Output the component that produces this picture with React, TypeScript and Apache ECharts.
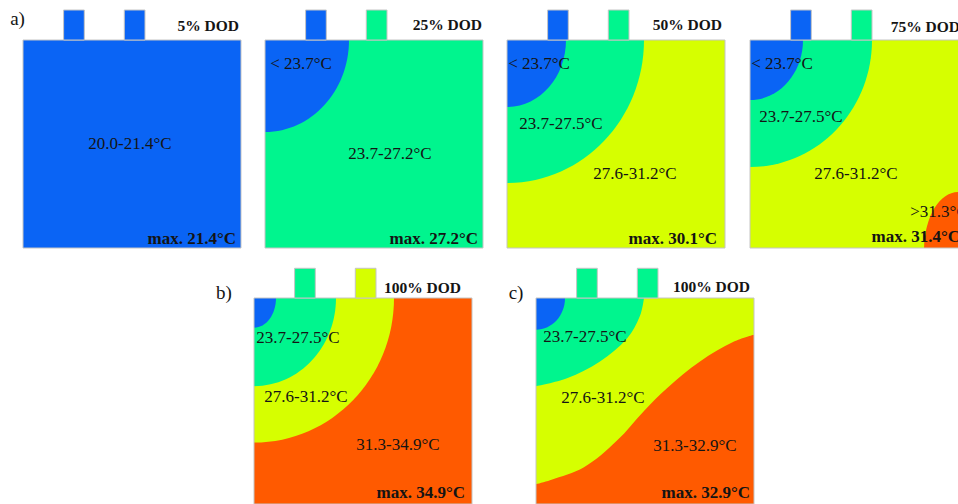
import React, { useEffect, useRef } from "react";
import * as echarts from "echarts";

// ---------- data ----------
const ZONE_COLORS: Record<string, string> = {
  blue: "#0A64F5",
  green: "#00F58E",
  yellow: "#D6FF00",
  orange: "#FF5A00",
};

const PANEL_TITLES = ["5% DOD", "25% DOD", "50% DOD", "75% DOD", "100% DOD", "100% DOD"];
const PANEL_LETTERS = ["a)", "", "", "", "b)", "c)"];
const MAX_LABELS = ["max. 21.4°C", "max. 27.2°C", "max. 30.1°C", "max. 31.4°C", "max. 34.9°C", "max. 32.9°C"];
const BASE_ZONES = ["blue", "green", "yellow", "yellow", "orange", "yellow"];
const TAB_ZONES = [
  ["blue", "blue"],
  ["blue", "green"],
  ["blue", "green"],
  ["blue", "green"],
  ["green", "yellow"],
  ["green", "green"],
];

// isotherm zones drawn as ellipses, outer to inner: [centreX, centreY, radiusX, radiusY, zone] (cell units)
const ISO_A1: any[] = [];
const ISO_A2 = [[0, 0, 84, 92, "blue"]];
const ISO_A3 = [
  [0, 0, 137, 143, "green"],
  [0, 0, 59, 67, "blue"],
];
const ISO_A4 = [
  [0, 0, 122, 127, "green"],
  [0, 0, 53, 60, "blue"],
  [208, 210, 34, 58, "orange"],
];
const ISO_B = [
  [0, 0, 140, 146, "yellow"],
  [0, 0, 82, 89, "green"],
  [0, 0, 22, 30, "blue"],
];
const ISO_C = [[0, 0, 29, 32, "blue"]];
const ISOTHERMS = [ISO_A1, ISO_A2, ISO_A3, ISO_A4, ISO_B, ISO_C];

// isotherm fronts of panel c (x, y in cell units)
// 27.5 °C front: green above it
const FRONT_C_GREEN = [
  [0, 89],
  [31, 81],
  [64, 64],
  [91, 41],
  [104, 18],
  [108, 0],
];
// 31.3 °C front: orange below it
const FRONT_C_ORANGE = [
  [0, 188],
  [14, 184],
  [48, 171],
  [81, 144],
  [108, 114],
  [131, 91],
  [164, 64],
  [198, 44],
  [218, 37],
];
// [panel, points, zone, side]
const FRONTS: any[] = [
  [5, FRONT_C_ORANGE, "orange", "end"],
  [5, FRONT_C_GREEN, "green", "start"],
];

const ZONE_TEXT = [
  ["20.0-21.4°C"],
  ["< 23.7°C", "23.7-27.2°C"],
  ["< 23.7°C", "23.7-27.5°C", "27.6-31.2°C"],
  ["< 23.7°C", "23.7-27.5°C", "27.6-31.2°C", ">31.3°C"],
  ["23.7-27.5°C", "27.6-31.2°C", "31.3-34.9°C"],
  ["23.7-27.5°C", "27.6-31.2°C", "31.3-32.9°C"],
];

// ---------- layout ----------
const CELL_W = 218;
const CELL_H = 208;
const GRID_POS = [
  [23, 40],
  [265, 40],
  [507, 40],
  [750, 40],
  [254, 298],
  [536, 298],
];
const TAB_SPANS = [
  [40.6, 61.3],
  [101.3, 122],
];
const TAB_TOP = -30;
const ZONE_TEXT_POS = [
  [[107, 103]],
  [[36, 23], [125, 113]],
  [[32, 23], [54, 83], [128, 133]],
  [[32, 23], [51, 76], [106, 133], [189, 171]],
  [[44, 40], [52, 99], [144, 148]],
  [[49, 39], [67, 100], [159, 149]],
];
const MAX_POS = [
  [213, 198],
  [213, 198],
  [210, 198],
  [210, 196],
  [211, 196],
  [214, 196],
];
const TITLE_POS = [
  [216, -15],
  [217, -16],
  [215, -16],
  [210, -14],
  [207, -11],
  [214, -12],
];
const LETTER_POS = [
  [-5.5, -21.5],
  [0, 0],
  [0, 0],
  [0, 0],
  [-30, -6],
  [-20, -6],
];

const FONT = '"Liberation Serif", "Times New Roman", serif';
const INK = "#141414";
const EDGE = "#C4C4C4";

function buildOption() {
  const grid = GRID_POS.map(([l, t]) => ({ left: l, top: t, width: CELL_W, height: CELL_H, show: false }));
  const xAxis = GRID_POS.map((_, i) => ({ type: "value", gridIndex: i, min: 0, max: CELL_W, show: false }));
  const yAxis = GRID_POS.map((_, i) => ({ type: "value", gridIndex: i, min: 0, max: CELL_H, inverse: true, show: false }));
  const series: any[] = [];

  GRID_POS.forEach((_, i) => {
    const axes = { xAxisIndex: i, yAxisIndex: i };
    // cell body (base zone)
    series.push({
      type: "custom",
      ...axes,
      z: 1,
      silent: true,
      data: [[0, 0]],
      renderItem: (_p: any, api: any) => {
        const o = api.coord([0, 0]);
        const s = api.size([CELL_W, CELL_H]);
        return {
          type: "rect",
          shape: { x: o[0], y: o[1], width: s[0], height: s[1] },
          style: { fill: ZONE_COLORS[BASE_ZONES[i]] },
        };
      },
    });
    // isotherm fronts as filled areas
    FRONTS.filter((f) => f[0] === i).forEach((f) => {
      series.push({
        type: "line",
        ...axes,
        z: 2,
        silent: true,
        data: f[1],
        smooth: 0.35,
        showSymbol: false,
        lineStyle: { width: 0 },
        areaStyle: { color: ZONE_COLORS[f[2]], opacity: 1, origin: f[3] },
      });
    });
    // isotherm ellipses
    const iso = ISOTHERMS[i];
    if (iso.length) {
      series.push({
        type: "custom",
        ...axes,
        z: 3,
        silent: true,
        data: iso.map((d: any[]) => d.slice(0, 4)),
        renderItem: (p: any, api: any) => {
          const c = api.coord([api.value(0), api.value(1)]);
          const r = api.size([api.value(2), api.value(3)]);
          const o = api.coord([0, 0]);
          const s = api.size([CELL_W, CELL_H]);
          return {
            type: "ellipse",
            shape: { cx: c[0], cy: c[1], rx: r[0], ry: r[1] },
            style: { fill: ZONE_COLORS[iso[p.dataIndex][4]] },
            clipPath: { type: "rect", shape: { x: o[0], y: o[1], width: s[0], height: s[1] } },
          };
        },
      });
    }
    // outline + tabs
    series.push({
      type: "custom",
      ...axes,
      z: 4,
      silent: true,
      data: [[0, 0]],
      renderItem: (_p: any, api: any) => {
        const o = api.coord([0, 0]);
        const s = api.size([CELL_W, CELL_H]);
        const children: any[] = [
          {
            type: "rect",
            shape: { x: o[0], y: o[1], width: s[0], height: s[1] },
            style: { fill: "none", stroke: EDGE, lineWidth: 1 },
          },
        ];
        TAB_SPANS.forEach(([x0, x1], k) => {
          const a = api.coord([x0, TAB_TOP]);
          const b = api.coord([x1, 0]);
          children.push({
            type: "rect",
            shape: { x: a[0], y: a[1], width: b[0] - a[0], height: b[1] - a[1] },
            style: { fill: ZONE_COLORS[TAB_ZONES[i][k]], stroke: EDGE, lineWidth: 1 },
          });
        });
        return { type: "group", children };
      },
    });
    // texts
    const texts: any[] = [];
    ZONE_TEXT[i].forEach((t, k) =>
      texts.push({ t, pos: ZONE_TEXT_POS[i][k], align: "center", weight: "normal", size: 17 })
    );
    texts.push({ t: MAX_LABELS[i], pos: MAX_POS[i], align: "right", weight: "bold", size: 17 });
    texts.push({ t: PANEL_TITLES[i], pos: TITLE_POS[i], align: "right", weight: "bold", size: 15.5 });
    if (PANEL_LETTERS[i]) texts.push({ t: PANEL_LETTERS[i], pos: LETTER_POS[i], align: "center", weight: "normal", size: 19 });
    series.push({
      type: "custom",
      ...axes,
      z: 5,
      silent: true,
      data: texts.map((d) => d.pos),
      renderItem: (p: any, api: any) => {
        const d = texts[p.dataIndex];
        const c = api.coord([api.value(0), api.value(1)]);
        return {
          type: "text",
          x: c[0],
          y: c[1],
          style: {
            text: d.t,
            fill: INK,
            fontFamily: FONT,
            fontSize: d.size,
            fontWeight: d.weight,
            align: d.align,
            verticalAlign: "middle",
          },
        };
      },
    });
  });

  return {
    animation: false,
    backgroundColor: "#ffffff",
    tooltip: { show: false },
    grid,
    xAxis,
    yAxis,
    series,
  };
}

export default function App() {
  const ref = useRef<HTMLDivElement>(null);
  useEffect(() => {
    document.body.style.margin = "0";
    const chart = echarts.init(ref.current as HTMLDivElement, null, { renderer: "svg" });
    chart.setOption(buildOption() as any);
    return () => chart.dispose();
  }, []);
  return (
    <div style={{ position: "fixed", left: 0, top: 0, width: 958, height: 504, overflow: "hidden", background: "#ffffff" }}>
      <div ref={ref} style={{ width: 990, height: 504 }} />
    </div>
  );
}
